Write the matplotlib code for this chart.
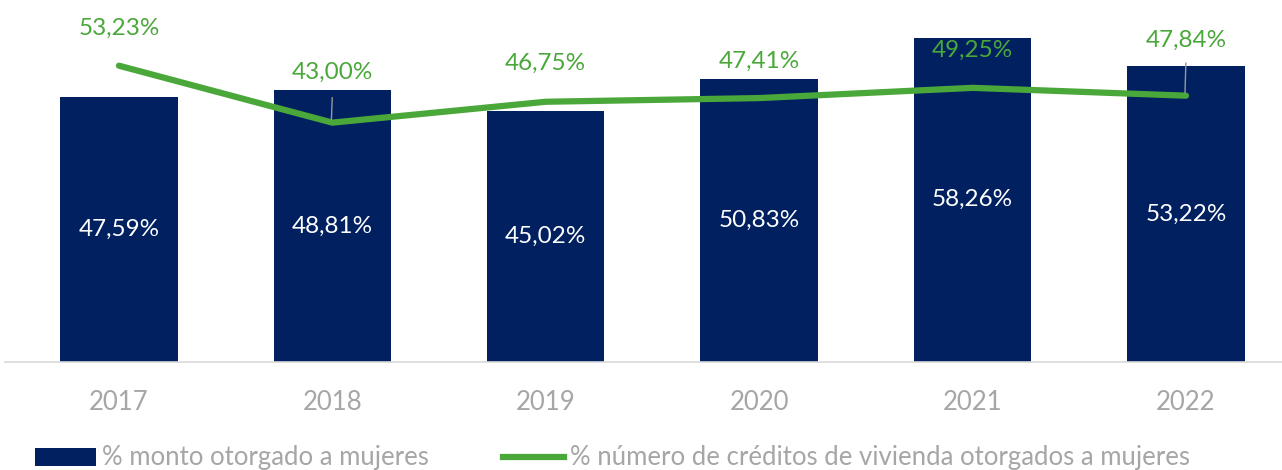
import numpy as np
import matplotlib.pyplot as plt
from matplotlib.lines import Line2D
from matplotlib.patches import Patch

years = ['2017', '2018', '2019', '2020', '2021', '2022']
monto = [47.59, 48.81, 45.02, 50.83, 58.26, 53.22]
numero = [53.23, 43.00, 46.75, 47.41, 49.25, 47.84]

NAVY = '#002060'
GREEN = '#4aa83a'
GRAY = '#a6a6a6'

plt.rcParams['font.family'] = ['Lato', 'DejaVu Sans']

def fmt(v):
    return f'{v:.2f}%'.replace('.', ',')

fig = plt.figure(figsize=(12.82, 4.70), dpi=100)
ax = fig.add_axes([5 / 1282, 108 / 470, 1 - 5 / 1282, 334 / 470])

x = np.arange(len(years))
ax.bar(x, monto, width=0.55, color=NAVY, zorder=2)
ax.plot(x, numero, color=GREEN, lw=4.5, solid_capstyle='round', zorder=3)

# white labels in the middle of bars
for xi, v in zip(x, monto):
    ax.text(xi, v / 2, fmt(v), color='white', fontsize=17.5,
            ha='center', va='center', zorder=4)

# green labels above the line, two of them with leader lines
offsets = [37, 50, 38, 37, 37, 55]
for xi, v, off in zip(x, numero, offsets):
    ax.annotate(fmt(v), (xi, v), xytext=(0, off * 0.72), textcoords='offset points',
                color=GREEN, fontsize=17.5, ha='center', va='center', zorder=5)
for i in (1, 5):
    ax.annotate('', (x[i] - 0.005, numero[i]), xytext=(x[i], numero[i] + 5.0 if i == 1 else numero[i] + 6.4),
                arrowprops=dict(arrowstyle='-', color='#999999', lw=1), zorder=4)

ax.set_xlim(-0.534, 5.45)
ax.set_ylim(0, 60)
ax.set_yticks([])
ax.set_xticks(x)
ax.set_xticklabels(years, color=GRAY, fontsize=18.5)
ax.tick_params(axis='x', length=0, pad=20)
for s in ['top', 'right', 'left']:
    ax.spines[s].set_visible(False)
ax.spines['bottom'].set_color('#d9d9d9')
ax.spines['bottom'].set_linewidth(1.2)

handles = [Patch(facecolor=NAVY, label='% monto otorgado a mujeres'),
           Line2D([0], [0], color=GREEN, lw=4.5,
                  label='% número de créditos de vivienda otorgados a mujeres')]
leg = fig.legend(handles=handles, loc='center left', bbox_to_anchor=(12 / 1282, 12 / 470),
                 ncol=2, frameon=False, fontsize=18.5, labelcolor=GRAY,
                 handlelength=2.35, handleheight=0.7, columnspacing=2.9, handletextpad=0.25)

fig.savefig('out.png', dpi=100)
